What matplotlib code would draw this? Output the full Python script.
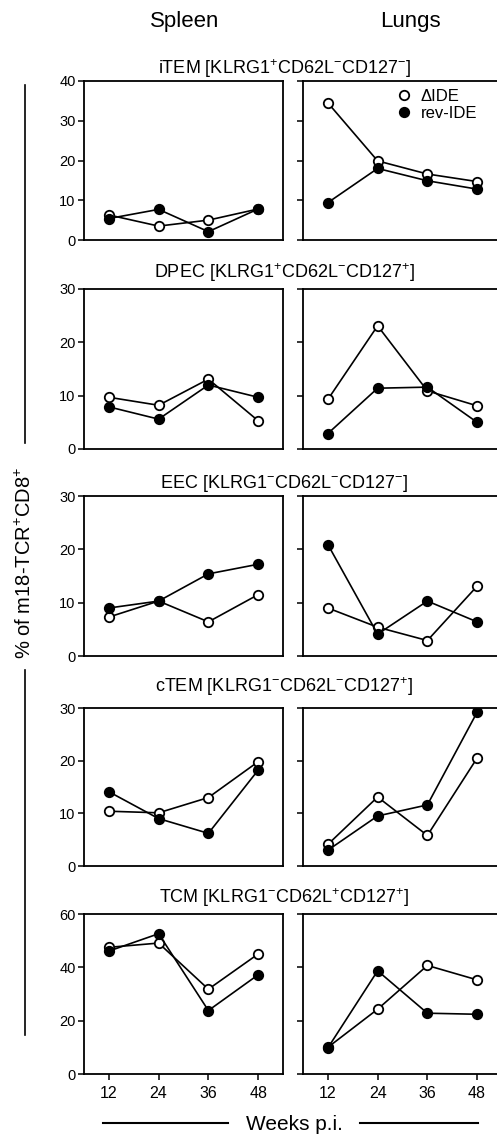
import matplotlib
matplotlib.use("Agg")
import matplotlib.pyplot as plt
from matplotlib.lines import Line2D

plt.rcParams["font.family"] = ["Liberation Sans", "DejaVu Sans"]
plt.rcParams["mathtext.fontset"] = "custom"
plt.rcParams["mathtext.rm"] = "Liberation Sans"
plt.rcParams["mathtext.it"] = "Liberation Sans"

weeks = [12, 24, 36, 48]
titles = [
    "iTEM [KLRG1$^{+}$CD62L$^{-}$CD127$^{-}$]",
    "DPEC [KLRG1$^{+}$CD62L$^{-}$CD127$^{+}$]",
    "EEC [KLRG1$^{-}$CD62L$^{-}$CD127$^{-}$]",
    "cTEM [KLRG1$^{-}$CD62L$^{-}$CD127$^{+}$]",
    "TCM [KLRG1$^{-}$CD62L$^{+}$CD127$^{+}$]",
]
ymax = [40, 30, 30, 30, 60]
ystep = [10, 10, 10, 10, 20]

# delta IDE (open) / rev-IDE (filled), spleen and lungs
spleen_dide = [[6.3, 3.5, 5.0, 7.8], [9.7, 8.2, 13.1, 5.3], [7.3, 10.3, 6.4, 11.5],
               [10.4, 10.1, 13.0, 19.8], [47.5, 49.1, 31.8, 45.0]]
spleen_rev = [[5.4, 7.7, 2.1, 7.8], [7.9, 5.6, 12.0, 9.7], [9.0, 10.3, 15.4, 17.2],
              [14.1, 9.0, 6.2, 18.2], [46.1, 52.6, 23.8, 37.2]]
lungs_dide = [[34.5, 19.9, 16.6, 14.7], [9.3, 23.1, 10.9, 8.1], [9.0, 5.4, 2.9, 13.1],
              [4.1, 13.1, 5.8, 20.5], [10.0, 24.3, 40.7, 35.3]]
lungs_rev = [[9.4, 18.0, 14.9, 12.8], [2.9, 11.4, 11.6, 5.0], [20.9, 4.1, 10.3, 6.4],
             [3.0, 9.5, 11.6, 29.2], [9.8, 38.7, 22.8, 22.4]]

W, H = 497, 1138
fig = plt.figure(figsize=(W / 100, H / 100), dpi=100)


def box(x0, x1, ytop, ybot):
    return [x0 / W, 1 - ybot / H, (x1 - x0) / W, (ybot - ytop) / H]


rows = [(81, 240), (289, 449), (496, 656), (708, 866), (914, 1074)]
title_y = [69, 273, 483, 687, 898]

for i, (yt, yb) in enumerate(rows):
    for j, (x0, x1) in enumerate([(84, 283), (303, 502)]):
        ax = fig.add_axes(box(x0, x1, yt, yb))
        d = spleen_dide[i] if j == 0 else lungs_dide[i]
        r = spleen_rev[i] if j == 0 else lungs_rev[i]
        ax.plot(weeks, d, "-o", color="black", lw=1.2, ms=6.8,
                mfc="white", mec="black", mew=1.3)
        ax.plot(weeks, r, "-o", color="black", lw=1.2, ms=6.8,
                mfc="black", mec="black", mew=1.3)
        ax.set_xlim(6, 54)
        ax.set_ylim(0, ymax[i])
        ax.set_yticks(range(0, ymax[i] + 1, ystep[i]))
        for s in ax.spines.values():
            s.set_linewidth(1.3)
        ax.tick_params(axis="y", direction="out", length=4, width=1.1, labelsize=10.5, pad=2)
        if i == 4:
            ax.set_xticks(weeks)
            ax.tick_params(axis="x", direction="out", length=4, width=1.1, labelsize=11.5, pad=5)
        else:
            ax.set_xticks([])
        if j == 1:
            ax.tick_params(axis="y", labelleft=False)
        if i == 0 and j == 1:
            handles = [
                Line2D([], [], ls="none", marker="o", ms=6.8, mfc="white", mec="black", mew=1.3),
                Line2D([], [], ls="none", marker="o", ms=6.8, mfc="black", mec="black", mew=1.3),
            ]
            ax.legend(handles, ["ΔIDE", "rev-IDE"], loc="upper left",
                      bbox_to_anchor=(0.44, 0.99), frameon=False,
                      handlelength=0.8, handletextpad=0.6, labelspacing=0.1,
                      borderaxespad=0, fontsize=12)
    fig.text(284 / W, 1 - title_y[i] / H, titles[i], ha="center", va="center", fontsize=13)

fig.text(185 / W, 1 - 21 / H, "Spleen", ha="center", va="center", fontsize=16)
fig.text(410 / W, 1 - 21 / H, "Lungs", ha="center", va="center", fontsize=16)

fig.text(25 / W, 1 - 563 / H, "% of m18-TCR$^{+}$CD8$^{+}$", rotation=90,
         ha="center", va="center", fontsize=14.5)
for y1, y2 in [(85, 443), (670, 1035)]:
    fig.add_artist(Line2D([25 / W, 25 / W], [1 - y1 / H, 1 - y2 / H],
                          transform=fig.transFigure, color="black", lw=1.2))

fig.text(294 / W, 1 - 1125 / H, "Weeks p.i.", ha="center", va="center", fontsize=15)
for x1, x2 in [(103, 228), (360, 478)]:
    fig.add_artist(Line2D([x1 / W, x2 / W], [1 - 1123 / H, 1 - 1123 / H],
                          transform=fig.transFigure, color="black", lw=1.5))

fig.savefig("out.png", dpi=100)
